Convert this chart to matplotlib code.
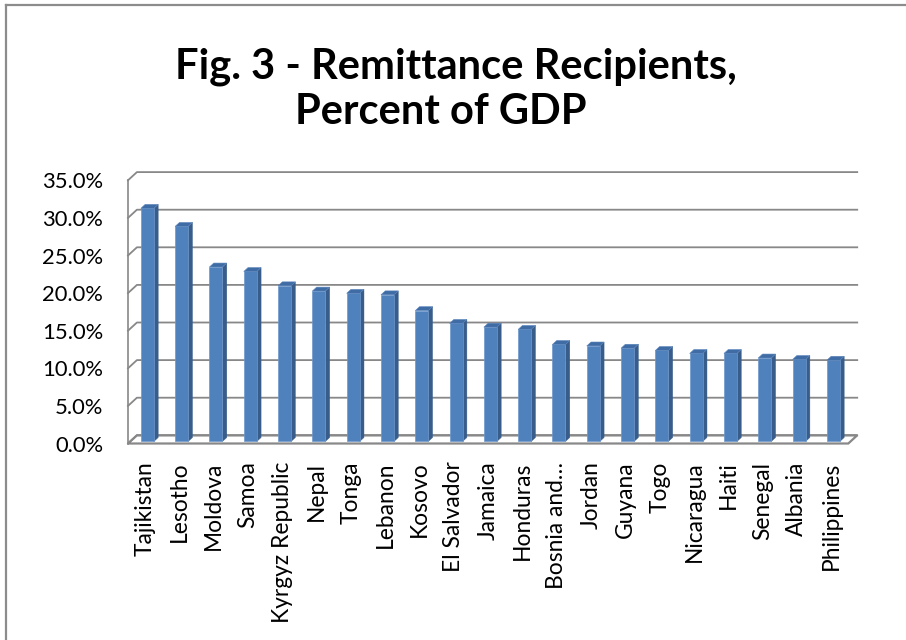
import numpy as np
import matplotlib
matplotlib.use("Agg")
import matplotlib.pyplot as plt
from matplotlib.patches import Polygon
from matplotlib.lines import Line2D

countries = ["Tajikistan", "Lesotho", "Moldova", "Samoa", "Kyrgyz Republic",
             "Nepal", "Tonga", "Lebanon", "Kosovo", "El Salvador", "Jamaica",
             "Honduras", "Bosnia and\u2026", "Jordan", "Guyana", "Togo",
             "Nicaragua", "Haiti", "Senegal", "Albania", "Philippines"]
share_gdp = [31.0, 28.6, 23.2, 22.6, 20.7, 20.0, 19.7, 19.5, 17.4, 15.7,
             15.2, 14.9, 12.9, 12.7, 12.4, 12.1, 11.7, 11.7, 11.1, 10.9, 10.8]
yticks = [0, 5, 10, 15, 20, 25, 30, 35]

plt.rcParams['font.family'] = ['Lato', 'DejaVu Sans']

W, H = 906, 640
fig = plt.figure(figsize=(W / 100, H / 100), dpi=100)

# pseudo-3D geometry: back wall is shifted right/up from the front plane
DX, DY = 0.26, 1.09          # full depth in data units
F0, F1 = 0.25, 0.73          # bar front/back depth fractions
BAR_W = 0.38
GRID = '#888888'

n = len(share_gdp)
ymax = 35
x0, px_per_unit = 128, 34.3
y0, px_per_pct = 443.5, 7.52
ax_w = (n + DX) * px_per_unit
ax_h = (ymax + DY) * px_per_pct
ax = fig.add_axes([x0 / W, (H - y0) / H, ax_w / W, ax_h / H])
ax.set_xlim(-0.5, n - 0.5 + DX)
ax.set_ylim(0, ymax + DY)
for s in ax.spines.values():
    s.set_visible(False)

# floor
floor = Polygon([(-0.5, 0), (n - 0.5, 0), (n - 0.5 + DX, DY), (-0.5 + DX, DY)],
                closed=True, facecolor='white', edgecolor=GRID, lw=1.6,
                clip_on=False, zorder=1)
ax.add_patch(floor)

# left wall front edge + gridlines running along side and back wall
ax.plot([-0.5, -0.5], [0, ymax], color=GRID, lw=1.2, clip_on=False, zorder=1)
for v in yticks:
    ax.plot([-0.5, -0.5 + DX, n - 0.5 + DX], [v, v + DY, v + DY],
            color=GRID, lw=1.3, clip_on=False, zorder=1)

# bars: front face, side face, top face
xs = np.arange(n)
bx = xs + F0 * DX
bb = F0 * DY
ddx, ddy = (F1 - F0) * DX, (F1 - F0) * DY
vals = np.array(share_gdp)
ax.bar(bx, vals, width=BAR_W, bottom=bb, color='#4F81BD',
       edgecolor='#6f97cb', lw=0.5, zorder=3, clip_on=False)
for xi, v in zip(bx, vals):
    xl, xr = xi - BAR_W / 2, xi + BAR_W / 2
    top = bb + v
    side = Polygon([(xr, bb), (xr, top), (xr + ddx, top + ddy), (xr + ddx, bb + ddy)],
                   closed=True, facecolor='#385D8A', edgecolor='#385D8A', lw=0.3,
                   zorder=2.9, clip_on=False)
    cap = Polygon([(xl, top), (xr, top), (xr + ddx, top + ddy), (xl + ddx, top + ddy)],
                  closed=True, facecolor='#3F6CA5', edgecolor='#5c86bd', lw=0.4,
                  zorder=3.1, clip_on=False)
    ax.add_patch(side)
    ax.add_patch(cap)

ax.set_xticks(xs)
ax.set_xticklabels(countries, rotation=90, fontsize=16.4, color='black')
ax.set_yticks(yticks)
ax.set_yticklabels([f"{v:.1f}%" for v in yticks], fontsize=15.8, color='black')
ax.tick_params(axis='x', length=0, pad=13)
ax.tick_params(axis='y', length=0, pad=18)

# title
title_font = dict(fontweight='bold', fontsize=30, ha='center', va='baseline')
fig.text(0.503, 1 - 79 / H, "Fig. 3 - Remittance Recipients,", **title_font)
fig.text(0.487, 1 - 124 / H, "Percent of GDP", **title_font)

# chart border (left and top edges)
fig.add_artist(Line2D([5.5 / W, 5.5 / W], [0, 1 - 4.5 / H], transform=fig.transFigure,
                      color='#8c8c8c', lw=1.6))
fig.add_artist(Line2D([5.5 / W, 1], [1 - 4.5 / H, 1 - 4.5 / H], transform=fig.transFigure,
                      color='#8c8c8c', lw=1.6))

fig.savefig("out.png", dpi=100)
